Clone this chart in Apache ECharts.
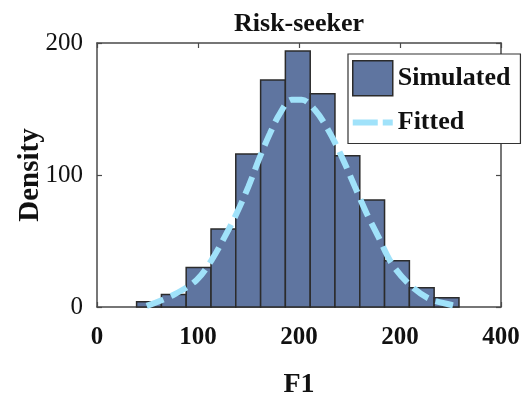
<!DOCTYPE html>
<html>
<head>
<meta charset="utf-8">
<script src="https://cdn.jsdelivr.net/npm/echarts@6/dist/echarts.min.js"></script>
<style>
  html, body { margin: 0; padding: 0; background: #fff; }
  #chart { width: 531px; height: 399px; }
</style>
</head>
<body>
<div id="chart"></div>
<script>
// Histogram bins (edges) and their density heights
const binEdges = [39.2, 63.8, 88.3, 112.9, 137.4, 162.0, 186.5, 211.1, 235.6, 260.2, 284.7, 309.3, 333.8, 358.4];
const density = [4, 9.5, 30, 59, 116, 172, 194, 161.5, 114.5, 81, 35, 14.5, 7];

// Fitted curve sample points
const fitX = [49.2, 75.5, 98.7, 113.5, 126.7, 138.3, 149.8, 161.4, 171.3, 181.2, 192.8, 202.7, 215.8, 229, 242.3, 255.4, 266.9, 278.5, 291.8, 308.2, 328, 351.2, 357];
const fitY = [0.8, 9.1, 20.5, 35.6, 53.5, 71, 91, 113.9, 131.6, 146.7, 157, 157, 149.2, 134, 113.9, 91, 71, 53.3, 33, 17.9, 6.6, 1.5, 0.6];

// Axis tick labels
const xTickLabels = ['0', '100', '200', '200', '400'];
const yTickLabels = ['0', '100', '200'];

const FONT = '"Liberation Serif", "Times New Roman", serif';
const BAR_FILL = '#5f75a0';
const BAR_EDGE = '#2b2b2b';
const FIT_COLOR = '#a0e2fa';
const AXIS_COLOR = '#4a4a4a';

const histData = density.map((d, i) => [binEdges[i], binEdges[i + 1], d]);
const fitData = fitX.map((x, i) => [x, fitY[i]]);

const chart = echarts.init(document.getElementById('chart'), null, { renderer: 'canvas' });

const axisLineStyle = { show: true, onZero: false, lineStyle: { color: AXIS_COLOR, width: 1.5 } };
const tickStyle = { show: true, inside: true, length: 5, lineStyle: { color: AXIS_COLOR, width: 1.2 } };

chart.setOption({
  animation: false,
  backgroundColor: '#fff',
  title: {
    text: 'Risk-seeker',
    left: 294,
    top: 6,
    textAlign: 'center',
    textStyle: { fontFamily: FONT, fontWeight: 'bold', fontSize: 26, color: '#111' }
  },
  grid: { left: 97, right: 30, top: 43, bottom: 92, outerBoundsMode: 'none', containLabel: false },
  legend: {
    left: 348,
    top: 54,
    orient: 'vertical',
    padding: [6, 10, 8, 4],
    itemWidth: 40,
    itemHeight: 35,
    itemGap: 13,
    symbolKeepAspect: true,
    backgroundColor: '#fff',
    borderColor: '#333',
    borderWidth: 1.2,
    borderRadius: 0,
    textStyle: { fontFamily: FONT, fontWeight: 'bold', fontSize: 26, color: '#111' },
    data: [
      { name: 'Simulated', icon: 'rect', itemStyle: { color: BAR_FILL, borderColor: BAR_EDGE, borderWidth: 1.5 } },
      { name: 'Fitted', icon: 'path://M0,0H25V6H0Z M30,0H40V6H30Z', itemStyle: { color: FIT_COLOR, borderWidth: 0 } }
    ]
  },
  xAxis: [
    {
      type: 'value', min: 0, max: 400, interval: 100, position: 'bottom',
      name: 'F1', nameLocation: 'middle', nameGap: 64, nameMoveOverlap: false,
      nameTextStyle: { fontFamily: FONT, fontWeight: 'bold', fontSize: 28, color: '#111' },
      axisLine: axisLineStyle, axisTick: tickStyle, splitLine: { show: false },
      axisLabel: {
        margin: 18, fontFamily: FONT, fontWeight: 'bold', fontSize: 25, color: '#111',
        formatter: v => xTickLabels[Math.round(v / 100)]
      }
    },
    {
      type: 'value', min: 0, max: 400, interval: 100, position: 'top',
      axisLine: axisLineStyle, axisTick: tickStyle, splitLine: { show: false },
      axisLabel: { show: false }
    }
  ],
  yAxis: [
    {
      type: 'value', min: 0, max: 200, interval: 100, position: 'left',
      name: 'Density', nameLocation: 'middle', nameGap: 52, nameRotate: 90, nameMoveOverlap: false,
      nameTextStyle: { fontFamily: FONT, fontWeight: 'bold', fontSize: 29, color: '#111' },
      axisLine: axisLineStyle, axisTick: tickStyle, splitLine: { show: false },
      axisLabel: {
        margin: 14, fontFamily: FONT, fontSize: 25, color: '#111',
        formatter: v => yTickLabels[Math.round(v / 100)]
      }
    },
    {
      type: 'value', min: 0, max: 200, interval: 100, position: 'right',
      axisLine: axisLineStyle, axisTick: tickStyle, splitLine: { show: false },
      axisLabel: { show: false }
    }
  ],
  series: [
    {
      name: 'Simulated',
      type: 'custom',
      xAxisIndex: 0,
      yAxisIndex: 0,
      itemStyle: { color: BAR_FILL, borderColor: BAR_EDGE, borderWidth: 1.5 },
      encode: { x: [0, 1], y: 2 },
      data: histData,
      renderItem: function (params, api) {
        const p0 = api.coord([api.value(0), api.value(2)]);
        const p1 = api.coord([api.value(1), 0]);
        return {
          type: 'rect',
          shape: { x: p0[0], y: p0[1], width: p1[0] - p0[0], height: p1[1] - p0[1] },
          style: { fill: BAR_FILL, stroke: BAR_EDGE, lineWidth: 1.5 }
        };
      },
      z: 2
    },
    {
      name: 'Fitted',
      type: 'line',
      xAxisIndex: 0,
      yAxisIndex: 0,
      data: fitData,
      smooth: 0.35,
      symbol: 'none',
      showSymbol: false,
      itemStyle: { color: FIT_COLOR },
      lineStyle: { color: FIT_COLOR, width: 6, type: [18, 8] },
      z: 3
    }
  ]
});
</script>
</body>
</html>
